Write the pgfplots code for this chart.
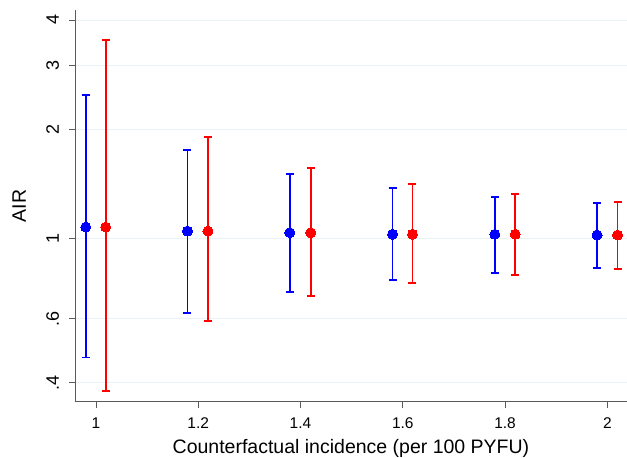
\documentclass[border=0pt]{standalone}
\usepackage{fontspec}
\setmainfont{Liberation Sans}
\usepackage{pgfplots}
\pgfplotsset{compat=1.18}
\usepackage{pgfplotstable}
\definecolor{sblue}{RGB}{0,0,255}
\definecolor{sred}{RGB}{255,0,0}
\definecolor{gridc}{RGB}{234,242,245}
\definecolor{axisgray}{RGB}{90,90,90}

\pgfplotstableread{
x y lo hi
0.980 1.074 0.469 2.480
1.179 1.047 0.623 1.752
1.379 1.036 0.710 1.502
1.580 1.026 0.766 1.374
1.780 1.026 0.804 1.302
1.980 1.021 0.828 1.249
}\blueT

\pgfplotstableread{
x y lo hi
1.019 1.074 0.380 3.520
1.219 1.047 0.590 1.906
1.420 1.036 0.693 1.560
1.619 1.026 0.754 1.409
1.820 1.026 0.794 1.322
2.020 1.021 0.823 1.262
}\redT

\begin{document}
\begin{tikzpicture}
\begin{axis}[
  scale only axis, width=552pt, height=391.7pt,
  xmin=0.959, xmax=2.0385,
  ymode=log, ymin=0.3543, ymax=4.262,
  axis x line*=bottom, axis y line*=left,
  axis line style={draw=axisgray, line width=0.9pt, -},
  xtick={1,1.2,1.4,1.6,1.8,2}, xticklabels={1,1.2,1.4,1.6,1.8,2},
  ytick={0.4,0.6,1,2,3,4}, yticklabels={.4,.6,1,2,3,4},
  yminorticks=false, xminorticks=false,
  tick align=outside, major tick length=6pt,
  tick style={draw=axisgray, line width=0.9pt},
  ymajorgrids, grid style={draw=gridc, line width=0.7pt},
  tick label style={font=\fontsize{15.5}{15.5}\selectfont},
  xticklabel style={anchor=base, yshift=-20.5pt},
  yticklabel style={rotate=90, anchor=base, yshift=10pt, font=\fontsize{18}{18}\selectfont},
  xlabel={Counterfactual incidence (per 100 PYFU)},
  ylabel={AIR},
  label style={font=\fontsize{19.5}{19.5}\selectfont},
  xlabel style={at={(axis description cs:0.5,-0.1335)}, anchor=base},
  ylabel style={at={(axis description cs:-0.0888,0.5)}, anchor=base},
  /pgf/number format/assume math mode=true,
  clip=false,
]
\addplot[sblue, only marks, mark=*, mark size=5pt, mark options={draw=sblue, fill=sblue, line width=0pt},
  error bars/.cd, y dir=both, y explicit, error mark=|,
  error bar style={sblue, line width=1.9pt},
  error mark options={sblue, line width=1.9pt, mark size=4pt}]
  table[x=x, y=y, y error plus expr=\thisrow{hi}-\thisrow{y}, y error minus expr=\thisrow{y}-\thisrow{lo}] {\blueT};
\addplot[sred, only marks, mark=*, mark size=5pt, mark options={draw=sred, fill=sred, line width=0pt},
  error bars/.cd, y dir=both, y explicit, error mark=|,
  error bar style={sred, line width=1.9pt},
  error mark options={sred, line width=1.9pt, mark size=4pt}]
  table[x=x, y=y, y error plus expr=\thisrow{hi}-\thisrow{y}, y error minus expr=\thisrow{y}-\thisrow{lo}] {\redT};
\end{axis}
\pgfresetboundingbox
\path (current axis.south west) ++(-75pt,-56.3pt) rectangle ([yshift=10pt]current axis.north east);
\end{tikzpicture}
\end{document}
